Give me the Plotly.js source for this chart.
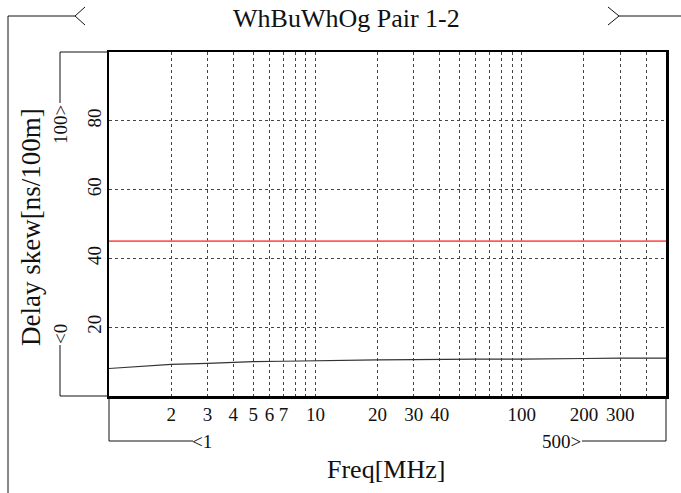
<!DOCTYPE html>
<html>
<head>
<meta charset="utf-8">
<script src="https://cdn.plot.ly/plotly-3.0.1.min.js"></script>
<style>
  html, body { margin: 0; padding: 0; background: #fff; }
  #chart { width: 681px; height: 493px; }
</style>
</head>
<body>
<div id="chart"></div>
<script>
// Measured delay skew of the pair versus frequency
const freqMHz = [1, 1.5, 2, 3, 4, 5, 7, 10, 15, 20, 30, 40, 60, 100, 145, 150, 200, 300, 500];
const skewNs  = [8.0, 8.7, 9.2, 9.5, 9.8, 10.0, 10.1, 10.3, 10.4, 10.5, 10.6, 10.7, 10.7, 10.7, 10.7, 10.9, 10.9, 11.0, 11.0];

// Pass/fail limit
const limitFreq = [1, 500];
const limitSkew = [45, 45];

// Axis ranges and ticks
const xMin = 1, xMax = 500;
const yMin = 0, yMax = 100;
const xTickVals = [2, 3, 4, 5, 6, 7, 8, 9, 10, 20, 30, 40, 50, 60, 70, 80, 90, 100, 200, 300, 400];
const xTickText = ['2', '3', '4', '5', '6', '7', '', '', '10', '20', '30', '40', '', '', '', '', '', '100', '200', '300', ''];
const yTickVals = [20, 40, 60, 80];

const chartTitle = 'WhBuWhOg Pair 1-2';
const xTitle = 'Freq[MHz]';
const yTitle = 'Delay skew[ns/100m]';

const FONT = 'Liberation Serif';
const INK = '#111';

// plot box in pixels
const W = 681, H = 493;
const L = 109, R = 666, T = 52, B = 396;
const px = x => (x - L) / (R - L);
const py = y => (B - y) / (B - T);

function seg(x0, y0, x1, y1) {
  return { type: 'line', xref: 'paper', yref: 'paper',
           x0: px(x0), y0: py(y0), x1: px(x1), y1: py(y1),
           line: { color: INK, width: 1 } };
}
function pathPx(pts) {
  const d = pts.map((p, i) => (i ? 'L' : 'M') + px(p[0]) + ',' + py(p[1])).join(' ');
  return { type: 'path', xref: 'paper', yref: 'paper', path: d,
           line: { color: INK, width: 1 } };
}

const shapes = [
  // title bracket
  seg(8, 16, 75, 16), seg(8, 16, 8, 493),
  pathPx([[85, 7], [75, 16], [85, 25]]),
  pathPx([[608, 7], [619, 16], [608, 25]]),
  seg(619, 16, 681, 16),
  // y range bracket
  seg(60, 52, 109, 52), seg(60, 52, 60, 103),
  seg(60, 345, 60, 396), seg(60, 396, 109, 396),
  // x range bracket
  seg(109, 396, 109, 441), seg(109, 441, 193, 441),
  seg(582, 441, 666, 441), seg(666, 396, 666, 441)
];

function note(text, x, y, angle, size) {
  return { text: text, xref: 'paper', yref: 'paper', x: px(x), y: py(y),
           xanchor: 'center', yanchor: 'middle', showarrow: false,
           textangle: angle || 0, font: { family: FONT, size: size || 19, color: INK } };
}

const annotations = [
  note(chartTitle, 346, 18, 0, 26),
  note('100>', 60, 125, -90),
  note('<0', 60, 334, -90),
  note('<1', 202, 441),
  note('500>', 561, 441),
  // axis titles
  note(yTitle, 31, 227, -90, 27),
  note(xTitle, 386, 469, 0, 26)
];

const traces = [
  { x: freqMHz, y: skewNs, type: 'scatter', mode: 'lines',
    line: { color: '#333', width: 1.2 }, hoverinfo: 'skip' },
  { x: limitFreq, y: limitSkew, type: 'scatter', mode: 'lines',
    line: { color: '#ff5c5c', width: 1.8 }, hoverinfo: 'skip' }
];

const layout = {
  width: W, height: H,
  margin: { l: L, r: W - R, t: T, b: H - B, pad: 0 },
  paper_bgcolor: '#fff', plot_bgcolor: '#fff',
  showlegend: false,
  font: { family: FONT, color: INK },
  xaxis: {
    type: 'log', range: [Math.log10(xMin), Math.log10(xMax)],
    tickmode: 'array', tickvals: xTickVals, ticktext: xTickText,
    ticks: '', tickfont: { family: FONT, size: 19, color: INK },
    showgrid: true, gridcolor: '#444', gridwidth: 1, griddash: '3px,3px',
    showline: true, linecolor: '#000', linewidth: 2.5, mirror: true,
    zeroline: false
  },
  yaxis: {
    range: [yMin, yMax],
    tickmode: 'array', tickvals: yTickVals,
    ticks: '', tickangle: -90, ticklabelstandoff: -2,
    tickfont: { family: FONT, size: 19, color: INK },
    showgrid: true, gridcolor: '#444', gridwidth: 1, griddash: '3px,3px',
    showline: true, linecolor: '#000', linewidth: 2.5, mirror: true,
    zeroline: false
  },
  shapes: shapes,
  annotations: annotations
};

Plotly.newPlot('chart', traces, layout, { staticPlot: true, displayModeBar: false });
</script>
</body>
</html>
